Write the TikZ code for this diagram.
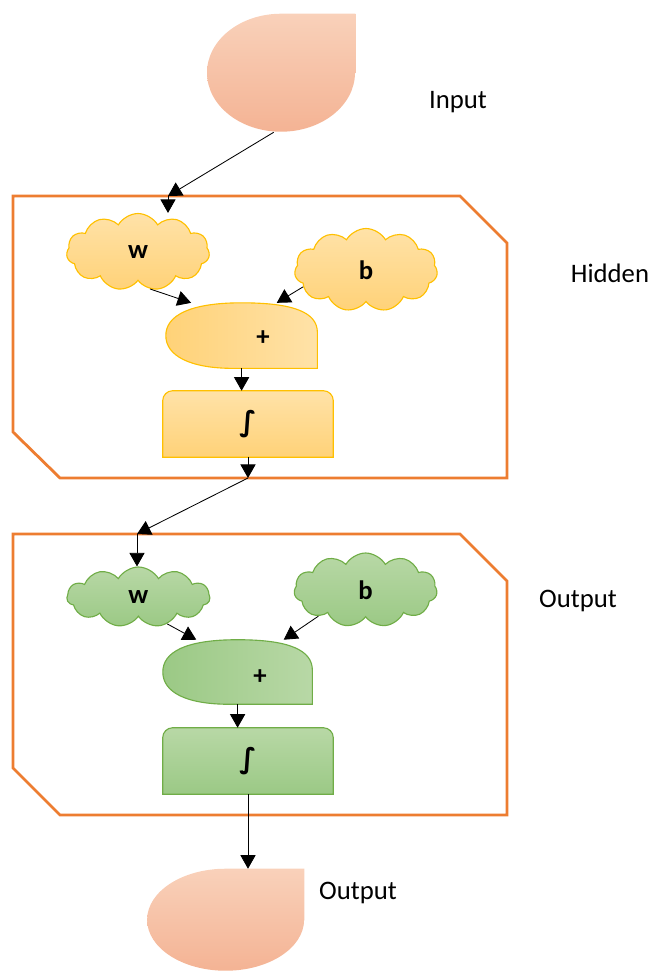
\documentclass[tikz,border=0pt]{standalone}
\usepackage{fontspec}
\setmainfont{Carlito}
\newfontfamily\symfont{DejaVu Sans}
\usepackage{tikz}
\usetikzlibrary{arrows.meta}
\usetikzlibrary{shapes.symbols}
\usetikzlibrary{backgrounds}
\usetikzlibrary{calc}

\definecolor{frameOrange}{HTML}{ED7D31}
\definecolor{goldLine}{HTML}{FFC000}
\definecolor{goldLight}{HTML}{FFE2A8}
\definecolor{goldDark}{HTML}{FFD278}
\definecolor{greenLine}{HTML}{70AD47}
\definecolor{greenLight}{HTML}{B8D8A6}
\definecolor{greenDark}{HTML}{9BC985}
\definecolor{tearTop}{HTML}{F9D1BA}
\definecolor{tearMid}{HTML}{F6C0A3}
\definecolor{tearBot}{HTML}{F4B394}

\tikzset{
    big_label/.style={font=\fontsize{19}{23}\selectfont},
    sym_label/.style={font=\fontsize{19}{23}\selectfont\bfseries},
    int_label/.style={font=\fontsize{20}{24}\selectfont\symfont\bfseries},
    gold_cloud/.style={cloud, cloud puffs=11, cloud puff arc=120, draw=goldLine,
        line width=0.8pt, top color=goldLight, bottom color=goldDark, sym_label},
    green_cloud/.style={cloud, cloud puffs=11, cloud puff arc=120, draw=greenLine,
        line width=0.8pt, top color=greenLight, bottom color=greenDark, sym_label},
    layer_frame/.style={draw=frameOrange, line width=2pt, line join=miter}
}

\begin{document}
\begin{tikzpicture}
\useasboundingbox (0,0) rectangle (16.325,-24.275);
\begin{scope}[every node/.style={inner sep=0pt}]
    \node (Input) at (7.025, -1.825) [minimum width=3.7cm, minimum height=2.95cm] {};
    \node (InputLabel) at (11.45, -2.55) [big_label] {Input};
    \node (HiddenLabel) at (15.25, -6.825) [big_label] {Hidden};
    \node (OutputLabel) at (14.45, -15.025) [big_label] {Output};
    % hidden layer
    \node (wH) at (3.45, -6.3) [gold_cloud, minimum width=3.575cm, minimum height=1.925cm] {w};
    \node (bH) at (9.15, -6.75) [gold_cloud, minimum width=3.575cm, minimum height=2.075cm] {b};
    \node (plusH) at (6.04, -8.39) [minimum width=3.775cm, minimum height=1.625cm] {};
    \node (plusTextH) at (6.575, -8.45) [sym_label] {+};
    \node (intH) at (6.2, -10.6) [minimum width=4.25cm, minimum height=1.65cm, int_label] {∫};
    % output layer
    \node (wO) at (3.46, -14.925) [green_cloud, minimum width=3.575cm, minimum height=1.5cm] {w};
    \node (bO) at (9.14, -14.75) [green_cloud, minimum width=3.575cm, minimum height=1.85cm] {b};
    \node (plusO) at (5.94, -16.8) [minimum width=3.725cm, minimum height=1.6cm] {};
    \node (plusTextO) at (6.5, -16.925) [sym_label] {+};
    \node (intO) at (6.2, -19.025) [minimum width=4.25cm, minimum height=1.65cm, int_label] {∫};
    \node (Output) at (5.64, -23.0) [minimum width=3.925cm, minimum height=2.55cm] {};
    \node (OutputText) at (8.95, -22.325) [big_label] {Output};
\end{scope}
\coordinate (jH) at (4.2, -4.9);
\coordinate (jH2) at (6.2, -11.95);
\coordinate (jO) at (3.425, -13.35);

\begin{pgfonlayer}{background}
    % layer frames
    \draw [layer_frame] (0.325,-4.9) -- (11.5,-4.9) -- (12.675,-6.075) -- (12.675,-11.95)
        -- (1.5,-11.95) -- (0.325,-10.8) -- cycle;
    \draw [layer_frame] (0.325,-13.35) -- (11.5,-13.35) -- (12.675,-14.525) -- (12.675,-20.375)
        -- (1.5,-20.375) -- (0.325,-19.2) -- cycle;
    % drops
    \shade [top color=tearTop, middle color=tearMid, bottom color=tearBot]
        (Input.east) -- (Input.north east) -- (Input.north)
        arc [start angle=90, end angle=360, x radius=1.85cm, y radius=1.475cm] -- cycle;
    \shade [top color=tearTop, middle color=tearMid, bottom color=tearBot]
        (Output.east) -- (Output.north east) -- (Output.north)
        arc [start angle=90, end angle=360, x radius=1.9625cm, y radius=1.275cm] -- cycle;
    % adders
    \draw [draw=goldLine, line width=0.8pt, left color=goldDark, right color=goldLight]
        (plusH.south east) -- ++(0,0.9) .. controls +(0,0.5) and +(1.3,0) .. (plusH.north)
        .. controls +(-1.3,0) and +(0,0.5) .. (plusH.west)
        .. controls +(0,-0.5) and +(-1.1,0) .. ($(plusH.south)+(-0.2,0)$) -- cycle;
    \draw [draw=greenLine, line width=0.8pt, left color=greenDark, right color=greenLight]
        (plusO.south east) -- ++(0,0.85) .. controls +(0,0.5) and +(1.3,0) .. (plusO.north)
        .. controls +(-1.3,0) and +(0,0.5) .. (plusO.west)
        .. controls +(0,-0.5) and +(-1.1,0) .. ($(plusO.south)+(-0.2,0)$) -- cycle;
    % activations
    \draw [draw=goldLine, line width=0.8pt, top color=goldLight, bottom color=goldDark]
        (intH.south west) -- ($(intH.north west)+(0,-0.25)$)
        arc [start angle=180, end angle=90, radius=0.25cm] -- ($(intH.north east)+(-0.25,0)$)
        arc [start angle=90, end angle=0, radius=0.25cm] -- (intH.south east) -- cycle;
    \draw [draw=greenLine, line width=0.8pt, top color=greenLight, bottom color=greenDark]
        (intO.south west) -- ($(intO.north west)+(0,-0.25)$)
        arc [start angle=180, end angle=90, radius=0.25cm] -- ($(intO.north east)+(-0.25,0)$)
        arc [start angle=90, end angle=0, radius=0.25cm] -- (intO.south east) -- cycle;
\end{pgfonlayer}

\begin{scope}[>={Triangle[black, width=0.38cm, length=0.34cm]},
              thin_edge/.style={draw=black, line width=0.6pt}]
    \path [->] (Input.263) edge [thin_edge] (jH);
    \path [->] (jH) edge [thin_edge] (jH |- wH.north);
    \path [->] (wH.-72) edge [thin_edge] (plusH.147);
    \path [->] (bH.195) edge [thin_edge] (plusH.43);
    \path [->] (plusH.south) edge [thin_edge] (plusH.south |- intH.north);
    \path [->] (intH.south) edge [thin_edge] (jH2);
    \path [->] (jH2) edge [thin_edge] (jO);
    \path [->] (jO) edge [thin_edge] (jO |- wO.north);
    \path [->] (wO.-43) edge [thin_edge] (plusO.142);
    \path [->] (bO.209) edge [thin_edge] (plusO.35);
    \path [->] (plusO.south) edge [thin_edge] (plusO.south |- intO.north);
    \path [->] (intO.south) edge [thin_edge] (intO.south |- Output.north);
\end{scope}
\end{tikzpicture}
\end{document}
